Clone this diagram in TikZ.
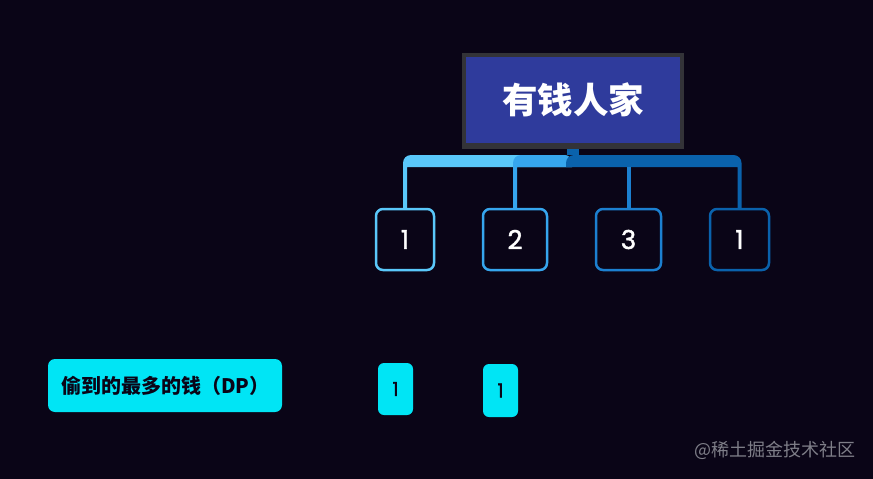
\documentclass[tikz,border=0pt]{standalone}
\usepackage{fontspec}
\setmainfont{Noto Sans CJK SC}
\newfontfamily\cjk{Noto Sans CJK SC}
\newfontfamily\numfont[FakeBold=1.6]{Poppins}
\definecolor{bgc}{HTML}{0A0517}
\definecolor{rootfill}{HTML}{2F3B9C}
\definecolor{rootline}{HTML}{333338}
\definecolor{ca}{HTML}{5AC8FA}
\definecolor{cb}{HTML}{36A6EE}
\definecolor{cc}{HTML}{1C80D0}
\definecolor{cd}{HTML}{0A62AC}
\definecolor{cyanb}{HTML}{00E5F5}
\definecolor{wm}{HTML}{7E7E88}
\begin{document}
\begin{tikzpicture}[x=1pt,y=-1pt,
  rootbox/.style={draw=rootline,line width=4pt,fill=rootfill,minimum width=218pt,minimum height=90pt,inner sep=0pt,text=white,font=\cjk\bfseries\fontsize{35.5}{40}\selectfont},
  kid/.style={line width=2.5pt,rounded corners=7pt,fill=bgc,minimum height=61pt,inner sep=0pt,text=white,font=\numfont\fontsize{26}{28}\selectfont},
  dpbox/.style={fill=cyanb,rounded corners=7pt,inner sep=0pt},
  small/.style={fill=cyanb,rounded corners=6pt,minimum width=35pt,minimum height=52pt,inner sep=0pt,text=bgc,font=\numfont\fontsize{19}{21}\selectfont}
]
\fill[bgc] (0,0) rectangle (873,479);
\useasboundingbox (0,0) rectangle (873,479);
% nodes
\node[kid,draw=ca,minimum width=58pt] (k1) at (405,239.5) {1};
\node[kid,draw=cb,minimum width=64pt] (k2) at (515,239.5) {2};
\node[kid,draw=cc,minimum width=65pt] (k3) at (628.5,239.5) {3};
\node[kid,draw=cd,minimum width=59pt] (k4) at (739.5,239.5) {1};
\coordinate (bartop) at (0,155);
\coordinate (barbot) at (0,167);
\coordinate (stemx) at (572,0);
% branch 1
\fill[ca] (stemx |- barbot) -- ([xshift=2pt]k1.north |- barbot) -- ([xshift=2pt]k1.north) -- ([xshift=-2pt]k1.north)
  {[rounded corners=8pt] -- ([xshift=-2pt]k1.north |- bartop) -- (stemx |- bartop)} -- cycle;
% branch 2
\fill[cb] (stemx |- barbot) -- ([xshift=2pt]k2.north |- barbot) -- ([xshift=2pt]k2.north) -- ([xshift=-2pt]k2.north)
  {[rounded corners=8pt] -- ([xshift=-2pt]k2.north |- bartop) -- (stemx |- bartop)} -- cycle;
% branch 4 (right bar)
\fill[cd] ([xshift=-6pt]stemx |- barbot) -- ([xshift=-2pt]k4.north |- barbot) -- ([xshift=-2pt]k4.north) -- ([xshift=2pt]k4.north)
  {[rounded corners=8pt] -- ([xshift=2pt]k4.north |- bartop) -- ([xshift=-6pt]stemx |- bartop)} -- cycle;
% branch 3 drop
\fill[cc] ([xshift=-2pt]k3.north |- barbot) rectangle ([xshift=2pt]k3.north);
% root
\node[rootbox] (root) at (573,99.5) {有钱人家};
\fill[cd] ([xshift=-6pt]root.south) rectangle ([xshift=6pt]root.south |- bartop);
\draw[rootline,line width=4pt] (root.south west) -- (root.south east);
% DP row
\node[dpbox,minimum width=234pt,minimum height=53pt] (dp) at (165,385.5) {};
\node[anchor=west,inner sep=0pt,font=\cjk\bfseries\fontsize{20}{22}\selectfont,text=bgc] (dpt) at (61,386) {偷到的最多的钱（DP）};
\node[small] (s1) at (395.5,389) {1};
\node[small,minimum height=53pt] (s2) at (500.5,390.5) {1};
% watermark
\node[anchor=west,inner sep=0pt,font=\cjk\fontsize{18}{20}\selectfont,text=wm] (wmk) at (694,450) {@稀土掘金技术社区};
\end{tikzpicture}
\end{document}
